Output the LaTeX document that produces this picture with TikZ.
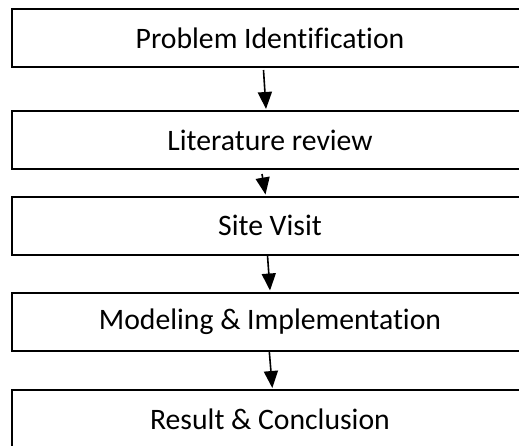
\documentclass[tikz,border=0pt]{standalone}
\usepackage{fontspec}
\setmainfont{Carlito}[Ligatures={NoCommon}]
\usetikzlibrary{arrows.meta}
\tikzset{
  stepbox/.style={draw=black, line width=2pt, minimum width=516pt, minimum height=58pt,
    inner sep=0pt, font=\fontsize{29.7}{35}\selectfont, text=black},
  flow/.style={line width=1.6pt, -{Triangle[length=17pt,width=14pt]}}
}
\begin{document}
\begin{tikzpicture}[x=1pt,y=-1pt]
\useasboundingbox (0,0) rectangle (519,445);
\clip (0,0) rectangle (519,445);
\fill[white] (0,0) rectangle (519,445);
\node[stepbox] (b1) at (270,38) {Problem Identification};
\node[stepbox] (b2) at (270,140) {Literature review};
\node[stepbox] (b3) at (270,225.5) {Site Visit};
\node[stepbox] (b4) at (270,321.5) {Modeling \& Implementation};
\node[stepbox] (b5) at (270,419) {Result \& Conclusion};
\draw[flow] ([xshift=-6.5pt,yshift=-2pt]b1.south) -- ([xshift=-4pt,yshift=1pt]b2.north);
\draw[flow] ([xshift=-8pt,yshift=-4pt]b2.south) -- ([xshift=-4.5pt,yshift=1pt]b3.north);
\draw[flow] ([xshift=-2.5pt]b3.south) -- ([xshift=0pt,yshift=1pt]b4.north);
\draw[flow] ([xshift=-0.7pt]b4.south) -- ([xshift=2.3pt,yshift=1pt]b5.north);
\end{tikzpicture}
\end{document}
